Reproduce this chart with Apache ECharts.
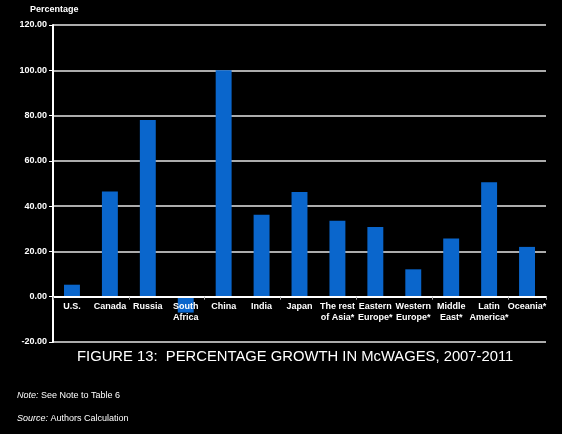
<!DOCTYPE html>
<html>
<head>
<meta charset="utf-8">
<script src="https://cdn.jsdelivr.net/npm/echarts@6/dist/echarts.min.js"></script>
<style>
html,body{margin:0;padding:0;background:#000;}
#c{width:562px;height:434px;}
</style>
</head>
<body>
<div id="c"></div>
<script>
const categories = ["U.S.", "Canada", "Russia", "South\nAfrica", "China", "India", "Japan", "The rest\nof Asia*", "Eastern\nEurope*", "Western\nEurope*", "Middle\nEast*", "Latin\nAmerica*", "Oceania*"];
const growth = [5.3, 46.5, 78.0, -7.0, 100.0, 36.2, 46.3, 33.6, 30.8, 12.1, 25.7, 50.6, 22.0];
const yTicks = { min: -20, max: 120, interval: 20 };

const FONT = "'Liberation Sans', Arial, sans-serif";
const chart = echarts.init(document.getElementById('c'), null, { renderer: 'canvas' });
const small = { color: '#fff', fontSize: 9, fontWeight: 'normal', fontFamily: FONT };
chart.setOption({
  backgroundColor: '#000',
  animation: false,
  textStyle: { fontFamily: FONT },
  title: [
    { text: 'Percentage', left: 30, top: 5, padding: 0, textStyle: { color: '#fff', fontSize: 9, fontWeight: 'bold', fontFamily: FONT } },
    { text: 'FIGURE 13:  PERCENTAGE GROWTH IN McWAGES, 2007-2011', left: 77, top: 349, padding: 0, textStyle: { color: '#fff', fontSize: 14.8, fontWeight: 'normal', fontFamily: FONT } },
    { text: '{i|Note:} See Note to Table 6', left: 17, top: 391, padding: 0, textStyle: Object.assign({}, small, { rich: { i: Object.assign({ fontStyle: 'italic' }, small) } }) },
    { text: '{i|Source:} Authors Calculation', left: 17, top: 414, padding: 0, textStyle: Object.assign({}, small, { rich: { i: Object.assign({ fontStyle: 'italic' }, small) } }) }
  ],
  grid: { left: 53, right: 16, top: 25, bottom: 92, containLabel: false },
  xAxis: [{
    type: 'category',
    data: categories,
    axisLine: { onZero: true, lineStyle: { color: '#fff', width: 2 } },
    axisTick: { show: true, length: 3, lineStyle: { color: '#aaa' } },
    axisLabel: { show: false },
    z: 10
  }, {
    type: 'category',
    data: categories,
    position: 'bottom',
    offset: -45.5,
    axisLine: { show: false },
    axisTick: { show: false },
    axisLabel: { color: '#fff', fontSize: 9, fontWeight: 'bold', fontFamily: FONT, lineHeight: 11, interval: 0, margin: 5 },
    z: 10
  }],
  yAxis: {
    type: 'value',
    min: yTicks.min, max: yTicks.max, interval: yTicks.interval,
    axisLine: { show: true, lineStyle: { color: '#fff', width: 2 } },
    axisTick: { show: true, length: 4, lineStyle: { color: '#fff' } },
    axisLabel: { color: '#fff', fontSize: 9, fontWeight: 'bold', fontFamily: FONT, margin: 6, formatter: v => v.toFixed(2) },
    splitLine: { show: true, lineStyle: { color: '#e6e6e6', width: 1.5 } }
  },
  series: [{
    type: 'bar',
    data: growth,
    barWidth: '42%',
    itemStyle: { color: '#0a66cc' },
    z: 2
  }]
});
</script>
</body>
</html>
